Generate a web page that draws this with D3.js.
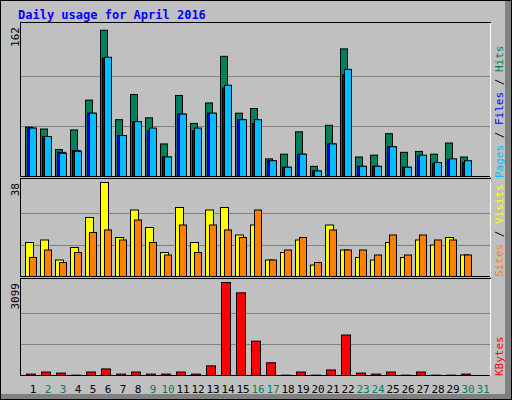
<!DOCTYPE html>
<html><head><meta charset="utf-8">
<script src="https://cdn.jsdelivr.net/npm/d3@7"></script>
<style>body{margin:0;background:#fff}svg{display:block}</style>
</head><body>
<script>
// daily figures, April 2016
var days = d3.range(1, 32);
var weekend = [2, 3, 9, 10, 16, 17, 23, 24, 30, 31];
var hits  = [54,52,30,51,83,158,62,89,64,36,88,58,80,130,69,74,20,25,49,12,56,138,22,24,47,27,28,25,37,22];
var files = [53,44,27,29,69,128,45,60,50,22,68,50,69,96,62,58,18,11,25,7,36,110,12,12,33,11,23,15,19,16];
var pages = [53,44,26,28,69,129,45,60,53,22,68,53,69,99,62,62,18,11,25,7,36,116,12,12,33,11,24,16,20,18];
var visits = [14,15,7,12,24,38,16,27,20,10,28,14,27,28,17,21,7,10,15,5,21,11,8,7,14,8,15,13,16,9];
var sites  = [8,11,6,10,18,19,15,23,14,9,21,10,21,19,16,27,7,11,16,6,19,11,11,9,17,9,17,15,15,9];
var kbytes = [79,147,113,45,147,249,79,147,79,79,147,79,350,3099,2758,1164,452,45,147,45,215,1368,113,79,147,45,147,45,45,79];
var maxLabels = ["162", "38", "3099"];

var W = 512, H = 400;
var svg = d3.select("body").append("svg").attr("width", W).attr("height", H)
  .style("font-family", "'DejaVu Sans Mono', monospace");

// frame
svg.append("rect").attr("x", 0).attr("y", 0).attr("width", W).attr("height", H).attr("fill", "#c0c0c0");
svg.append("rect").attr("x", 505).attr("y", 0).attr("width", 7).attr("height", H).attr("fill", "#808080");
svg.append("rect").attr("x", 0).attr("y", 394).attr("width", W).attr("height", 6).attr("fill", "#808080");
svg.append("rect").attr("x", 0.5).attr("y", 0.5).attr("width", W - 1).attr("height", H - 1).attr("fill", "none").attr("stroke", "#000");
svg.append("text").attr("x", 18).attr("y", 19).attr("fill", "#0000ff").attr("font-size", 12).attr("font-weight", "bold")
  .text("Daily usage for April 2016");

var x = d3.scaleBand().domain(days).range([21, 486]).paddingInner(0).paddingOuter(0);
var slot = function(d){ return 25 + 15 * (d - 1); };

var panels = [
  {top: 25, base: 177, max: 162, label: maxLabels[0]},
  {top: 181, base: 277, max: 38, label: maxLabels[1]},
  {top: 281, base: 376, max: 3099, label: maxLabels[2]}
];

panels.forEach(function(p){
  svg.append("rect").attr("x", 20.5).attr("y", p.top - 2.5).attr("width", 470).attr("height", p.base - p.top + 2)
    .attr("fill", "#c0c0c0").attr("stroke", "#000");
  svg.append("line").attr("x1", 490.5).attr("x2", 490.5).attr("y1", p.top - 2).attr("y2", p.base).attr("stroke", "#fff");
  var y = d3.scaleLinear().domain([0, p.max]).range([p.base, p.top + 1]);
  p.y = y;
  [1/3, 2/3].forEach(function(f){
    var gy = Math.round(p.base - (p.base - p.top) * f) + 0.5;
    svg.append("line").attr("x1", 21).attr("x2", 490).attr("y1", gy).attr("y2", gy).attr("stroke", "#808080");
  });
  svg.append("text").attr("transform", "translate(19," + (p.top + 2) + ") rotate(-90)")
    .attr("text-anchor", "end").attr("font-size", 11).text(p.label);
});

function bars(panel, data, dx, w, fill){
  svg.append("g").selectAll("rect").data(data).join("rect")
    .attr("x", function(d, i){ return slot(i + 1) + dx + 0.5; })
    .attr("y", function(d){ return panel.y(d) + 0.5; })
    .attr("width", w)
    .attr("height", function(d){ return Math.max(0, panel.base - panel.y(d) - 1); })
    .attr("fill", fill).attr("stroke", "#000");
}
bars(panels[0], hits, 0, 7, "#00805c");
bars(panels[0], files, 2, 8, "#0000ff");
bars(panels[0], pages, 4, 7, "#00bfff");
bars(panels[1], visits, 0, 8, "#ffff00");
bars(panels[1], sites, 4, 7, "#ff8000");
bars(panels[2], kbytes, 1, 9, "#ff0000");

// day labels
svg.append("g").selectAll("text").data(days).join("text")
  .attr("x", function(d){ return slot(d) + 8; })
  .attr("y", 393).attr("text-anchor", "middle").attr("font-size", 11)
  .attr("fill", function(d){ return weekend.indexOf(d) >= 0 ? "#00805c" : "#000"; })
  .text(function(d){ return d; });

// right-side legends
function legend(yEnd, parts){
  var t = svg.append("text").attr("transform", "translate(503," + yEnd + ") rotate(-90)").attr("font-size", 11);
  parts.forEach(function(p){ t.append("tspan").attr("fill", p[1]).text(p[0]); });
}
legend(178, [["Pages", "#00bfff"], [" / ", "#000"], ["Files", "#0000ff"], [" / ", "#000"], ["Hits", "#00805c"]]);
legend(277, [["Sites", "#ff8000"], [" / ", "#000"], ["Visits", "#ffff00"]]);
legend(376, [["KBytes", "#ff0000"]]);
</script>
</body></html>
